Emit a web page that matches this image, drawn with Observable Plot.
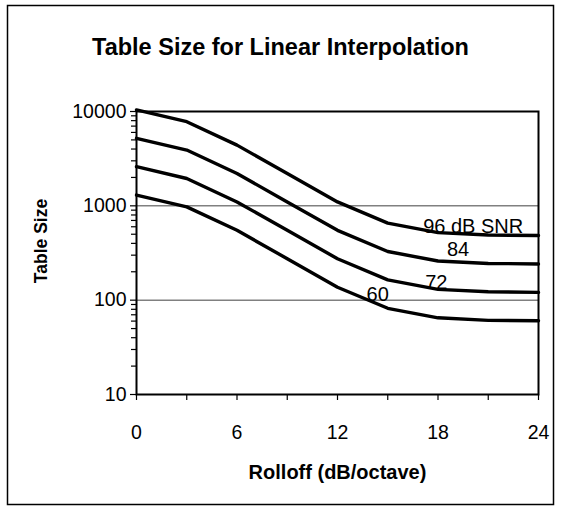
<!DOCTYPE html>
<html>
<head>
<meta charset="utf-8">
<script src="https://cdn.jsdelivr.net/npm/d3@7"></script>
<script src="https://cdn.jsdelivr.net/npm/@observablehq/plot@0.6"></script>
<style>
  html, body { margin: 0; padding: 0; background: #fff; }
  #chart { width: 561px; height: 506px; position: relative; }
  #chart svg g[aria-label="x-axis tick label"] text,
  #chart svg g[aria-label="y-axis tick label"] text { font-size: 19.5px !important; }
  #chart svg g[aria-label="x-axis tick label"],
  #chart svg g[aria-label="y-axis tick label"] { font-size: 19.5px !important; }
</style>
</head>
<body>
<div id="chart"></div>
<script>
// ---- data ----
const rolloff = [0, 3, 6, 9, 12, 15, 18, 21, 24];
const snr96 = [10400, 7800, 4400, 2200, 1100, 656, 520, 490, 484];
const snr84 = [5200, 3900, 2200, 1100, 550, 328, 260, 245, 242];
const snr72 = [2600, 1950, 1100, 550, 275, 164, 130, 123, 121];
const snr60 = [1300, 975, 550, 275, 137, 82, 65, 61, 60.5];
const seriesNames = ["96", "84", "72", "60"];
const seriesValues = [snr96, snr84, snr72, snr60];
const labelTexts = ["96 dB SNR", "84", "72", "60"];
const labelX = [20.1, 19.2, 17.9, 14.4];
const labelY = [521, 295, 132, 98];
const xTickLabels = [0, 6, 12, 18, 24];
const xTickAll = [0, 3, 6, 9, 12, 15, 18, 21, 24];
const yTickLabels = [10, 100, 1000, 10000];
const yGrid = [100, 1000];
const titleText = "Table Size for Linear Interpolation";
const xTitle = "Rolloff (dB/octave)";
const yTitle = "Table Size";

// ---- build table ----
const rows = [];
seriesNames.forEach((s, i) => rolloff.forEach((x, j) => rows.push({series: s, x, y: seriesValues[i][j]})));
const labels = labelTexts.map((t, i) => ({t, x: labelX[i], y: labelY[i]}));
const yMinor = [];
for (const d of [10, 100, 1000]) for (let k = 2; k <= 9; k++) yMinor.push(d * k);

const font = "Liberation Sans, Arial, Helvetica, sans-serif";

const plot = Plot.plot({
  width: 561,
  height: 506,
  marginLeft: 136,
  marginRight: 23,
  marginTop: 111,
  marginBottom: 112,
  style: {fontFamily: font, fontSize: "18px", color: "#000", background: "#fff", overflow: "visible"},
  x: {domain: [0, 24]},
  y: {type: "log", domain: [10, 10000]},
  marks: [
    Plot.ruleY(yGrid, {stroke: "#808080", strokeWidth: 1.5}),
    Plot.axisY(yMinor, {tickSize: 5, tickFormat: () => "", strokeWidth: 1.2, label: null}),
    Plot.axisY(yTickLabels, {tickSize: 6, tickPadding: 4, tickFormat: d => String(d), strokeWidth: 1.2, fontSize: 19.5, label: null}),
    Plot.axisX(xTickAll, {tickSize: 6, tickPadding: 25, tickFormat: d => xTickLabels.includes(d) ? String(d) : "", strokeWidth: 1.2, fontSize: 19.5, label: null}),
    Plot.frame({stroke: "#000", strokeWidth: 2}),
    Plot.line(rows, {x: "x", y: "y", z: "series", stroke: "#000", strokeWidth: 3.4, curve: "linear"}),
    Plot.text(labels, {x: "x", y: "y", text: "t", textAnchor: "middle", lineAnchor: "bottom", fontSize: 20, fill: "#000"}),
    Plot.text([titleText], {frameAnchor: "top", dx: -57, dy: -64, lineAnchor: "middle", fontSize: 23.5, fontWeight: "bold", fill: "#000"}),
    Plot.text([xTitle], {frameAnchor: "bottom", dy: 78, lineAnchor: "middle", fontSize: 20, fontWeight: "bold", fill: "#000"}),
    Plot.text([yTitle], {frameAnchor: "left", dx: -95, dy: -12, textAnchor: "middle", rotate: -90, fontSize: 17.5, fontWeight: "bold", fill: "#000"})
  ]
});

const svg = d3.select(plot);
svg.insert("rect", ":first-child")
  .attr("x", 7.5).attr("y", 5.5).attr("width", 546).attr("height", 499)
  .attr("fill", "none").attr("stroke", "#000").attr("stroke-width", 1.5);

document.getElementById("chart").appendChild(plot);
</script>
</body>
</html>
